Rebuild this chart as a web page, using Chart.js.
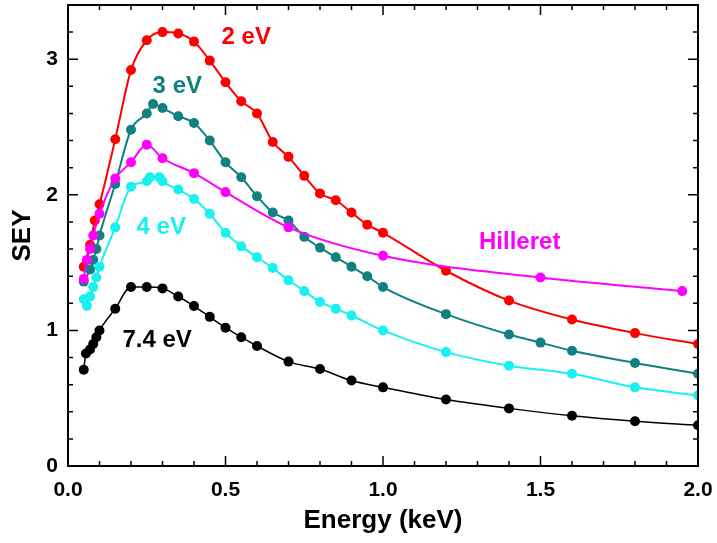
<!DOCTYPE html>
<html>
<head>
<meta charset="utf-8">
<script src="https://cdn.jsdelivr.net/npm/chart.js@4.4.1/dist/chart.umd.min.js"></script>
<style>
  html, body { margin: 0; padding: 0; background: #fff; }
  #wrap { width: 717px; height: 543px; }
</style>
</head>
<body>
<div id="wrap"><canvas id="chart"></canvas></div>
<script>
// SEY curves, energy in keV
const x2eV = [0.05, 0.07, 0.085, 0.1, 0.15, 0.2, 0.25, 0.3, 0.35, 0.4, 0.45, 0.5, 0.55, 0.6, 0.65, 0.7, 0.75, 0.8, 0.85, 0.9, 0.95, 1.0, 1.2, 1.4, 1.6, 1.8, 2.0];
const y2eV = [1.47, 1.63, 1.81, 1.93, 2.41, 2.92, 3.14, 3.20, 3.19, 3.13, 2.99, 2.83, 2.69, 2.60, 2.39, 2.28, 2.14, 2.01, 1.96, 1.87, 1.78, 1.72, 1.44, 1.22, 1.08, 0.98, 0.90];

const x3eV = [0.05, 0.07, 0.08, 0.09, 0.1, 0.15, 0.2, 0.25, 0.27, 0.3, 0.35, 0.4, 0.45, 0.5, 0.55, 0.6, 0.65, 0.7, 0.75, 0.8, 0.85, 0.9, 0.95, 1.0, 1.2, 1.4, 1.5, 1.6, 1.8, 2.0];
const y3eV = [1.36, 1.45, 1.52, 1.60, 1.70, 2.08, 2.48, 2.60, 2.67, 2.64, 2.58, 2.53, 2.40, 2.24, 2.13, 1.99, 1.87, 1.81, 1.69, 1.61, 1.54, 1.47, 1.40, 1.32, 1.12, 0.97, 0.91, 0.85, 0.76, 0.68];

const xHill = [0.05, 0.06, 0.07, 0.08, 0.1, 0.15, 0.2, 0.25, 0.3, 0.4, 0.5, 0.7, 1.0, 1.5, 1.95];
const yHill = [1.38, 1.52, 1.60, 1.70, 1.86, 2.12, 2.24, 2.37, 2.27, 2.16, 2.02, 1.76, 1.55, 1.39, 1.29];

const x4eV = [0.05, 0.06, 0.07, 0.08, 0.09, 0.1, 0.15, 0.2, 0.25, 0.26, 0.29, 0.3, 0.35, 0.4, 0.45, 0.5, 0.55, 0.6, 0.65, 0.7, 0.75, 0.8, 0.85, 0.9, 1.0, 1.2, 1.4, 1.6, 1.8, 2.0];
const y4eV = [1.23, 1.18, 1.25, 1.32, 1.39, 1.47, 1.76, 2.06, 2.10, 2.13, 2.13, 2.10, 2.04, 1.97, 1.86, 1.72, 1.62, 1.54, 1.46, 1.37, 1.29, 1.21, 1.16, 1.11, 1.00, 0.84, 0.74, 0.68, 0.58, 0.52];

const x74eV = [0.05, 0.057, 0.07, 0.08, 0.09, 0.1, 0.15, 0.2, 0.25, 0.3, 0.35, 0.4, 0.45, 0.5, 0.55, 0.6, 0.7, 0.8, 0.9, 1.0, 1.2, 1.4, 1.6, 1.8, 2.0];
const y74eV = [0.71, 0.83, 0.86, 0.90, 0.95, 1.00, 1.16, 1.32, 1.32, 1.31, 1.25, 1.18, 1.10, 1.02, 0.95, 0.885, 0.77, 0.715, 0.63, 0.58, 0.49, 0.425, 0.37, 0.33, 0.30];

// curve labels, placed in data coordinates
const curveLabels = [
  { text: "2 eV", x: 0.566, y: 3.16, color: "#ff0000" },
  { text: "3 eV", x: 0.347, y: 2.80, color: "#118080" },
  { text: "4 eV", x: 0.296, y: 1.76, color: "#19f0f0" },
  { text: "7.4 eV", x: 0.283, y: 0.93, color: "#000000" },
  { text: "Hilleret", x: 1.434, y: 1.65, color: "#ff00ff" },
];

const FONT = "'Liberation Sans', Arial, sans-serif";

function pts(xs, ys) {
  return xs.map((x, i) => ({ x: x, y: ys[i] }));
}

function series(label, xs, ys, color, width) {
  return {
    label: label,
    data: pts(xs, ys),
    borderColor: color,
    backgroundColor: color,
    borderWidth: width,
    pointRadius: 5,
    pointHoverRadius: 5,
    pointBorderWidth: 0,
    cubicInterpolationMode: "monotone",
    fill: false,
  };
}

// box with inward ticks on all four sides, plus the curve labels
const framePlugin = {
  id: "frame",
  afterDraw(chart) {
    const ctx = chart.ctx;
    const xs = chart.scales.x;
    const ys = chart.scales.y;
    const a = chart.chartArea;
    ctx.save();
    ctx.strokeStyle = "#000";
    ctx.lineWidth = 2;
    ctx.beginPath();
    ctx.rect(a.left, a.top, a.right - a.left, a.bottom - a.top);
    ctx.stroke();
    ctx.lineWidth = 1.5;
    for (let i = 0; i <= 20; i++) {
      const px = xs.getPixelForValue(i / 10);
      const len = i % 5 === 0 ? 10 : 5;
      ctx.beginPath();
      ctx.moveTo(px, a.bottom);
      ctx.lineTo(px, a.bottom - len);
      ctx.moveTo(px, a.top);
      ctx.lineTo(px, a.top + len);
      ctx.stroke();
    }
    for (let i = 0; i <= 17; i++) {
      const py = ys.getPixelForValue(i / 5);
      const len = i % 5 === 0 ? 10 : 5;
      ctx.beginPath();
      ctx.moveTo(a.left, py);
      ctx.lineTo(a.left + len, py);
      ctx.moveTo(a.right, py);
      ctx.lineTo(a.right - len, py);
      ctx.stroke();
    }
    ctx.font = "bold 24px " + FONT;
    ctx.textAlign = "center";
    ctx.textBaseline = "middle";
    curveLabels.forEach((l) => {
      ctx.fillStyle = l.color;
      ctx.fillText(l.text, xs.getPixelForValue(l.x), ys.getPixelForValue(l.y));
    });
    ctx.restore();
  },
};

new Chart(document.getElementById("chart"), {
  type: "line",
  data: {
    datasets: [
      series("Hilleret", xHill, yHill, "#ff00ff", 2),
      series("7.4 eV", x74eV, y74eV, "#000000", 1.5),
      series("4 eV", x4eV, y4eV, "#19f0f0", 2),
      series("3 eV", x3eV, y3eV, "#118080", 2),
      series("2 eV", x2eV, y2eV, "#ff0000", 2),
    ],
  },
  options: {
    responsive: true,
    maintainAspectRatio: false,
    animation: false,
    layout: { padding: { left: 0, right: 19, top: 5, bottom: 0 } },
    plugins: {
      legend: { display: false },
      tooltip: { enabled: false },
    },
    scales: {
      x: {
        type: "linear",
        min: 0,
        max: 2,
        grid: { display: false, drawTicks: false },
        border: { display: false },
        ticks: {
          stepSize: 0.1,
          autoSkip: false,
          maxRotation: 0,
          padding: 12,
          color: "#000",
          font: { family: FONT, size: 21, weight: "bold" },
          callback: (v) => (Math.abs(v * 2 - Math.round(v * 2)) < 1e-6 ? v.toFixed(1) : ""),
        },
        title: {
          display: true,
          text: "Energy (keV)",
          color: "#000",
          padding: { top: 0, bottom: 7 },
          font: { family: FONT, size: 26, weight: "bold" },
        },
        afterFit: (scale) => {
          scale.height = 77;
          scale.paddingLeft = 0;
          scale.paddingRight = 0;
        },
      },
      y: {
        type: "linear",
        min: 0,
        max: 3.4,
        grid: { display: false, drawTicks: false },
        border: { display: false },
        ticks: {
          stepSize: 0.2,
          autoSkip: false,
          padding: 10,
          color: "#000",
          font: { family: FONT, size: 21, weight: "bold" },
          callback: (v) => (Math.abs(v - Math.round(v)) < 1e-6 ? String(Math.round(v)) : ""),
        },
        title: {
          display: true,
          text: "SEY",
          color: "#000",
          padding: { top: 7, bottom: 0 },
          font: { family: FONT, size: 26, weight: "bold" },
        },
        afterFit: (scale) => {
          scale.width = 68;
          scale.paddingTop = 0;
          scale.paddingBottom = 0;
        },
      },
    },
  },
  plugins: [framePlugin],
});
</script>
</body>
</html>
